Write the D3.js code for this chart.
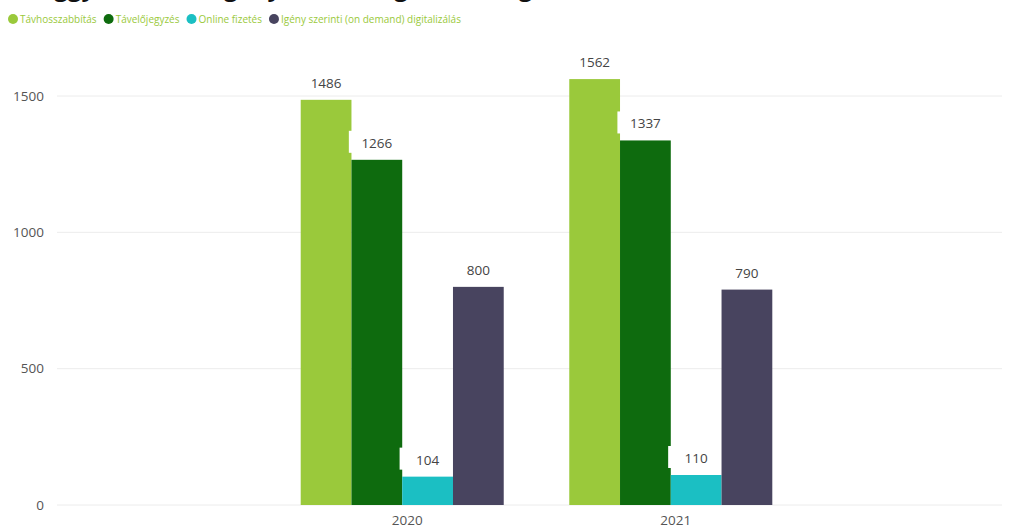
<!DOCTYPE html>
<html>
<head>
<meta charset="utf-8">
<script src="https://cdn.jsdelivr.net/npm/d3@7"></script>
<style>
  body { margin: 0; background: #fff; }
  text { font-family: "Open Sans", "Noto Sans", sans-serif; }
</style>
</head>
<body>
<div id="chart"></div>
<script>
var width = 1012,
  height = 525;

// data
var years = ["2020", "2021"];
var series = ["Távhosszabbítás", "Távelőjegyzés", "Online fizetés", "Igény szerinti (on demand) digitalizálás"];
var colors = ["#9ac93b", "#0e6b0e", "#1bbfc3", "#48445f"];
var values2020 = [1486, 1266, 104, 800];
var values2021 = [1562, 1337, 110, 790];
var yTicks = [0, 500, 1000, 1500];

var valuesByYear = [values2020, values2021];

var margin = {top: 96, right: 0, bottom: 20, left: 59};

var svg = d3.select("#chart").append("svg")
  .attr("width", width)
  .attr("height", height);

// title, mostly cut off at the top of the picture
svg.append("text")
  .attr("x", 10)
  .attr("y", -4)
  .attr("font-size", 24)
  .attr("font-weight", "bold")
  .attr("fill", "#111")
  .text("A leggyakrabban igénybe vett digitális szolgáltatások száma évente, db szerint, 2020–2021 ügyek típusa");

var y = d3.scaleLinear()
  .domain([0, 1500])
  .range([505, 96]);

var x0 = d3.scaleBand()
  .domain(years)
  .range([margin.left, width + 2])
  .paddingInner(0.244)
  .paddingOuter(0.9);

var x1 = d3.scaleBand()
  .domain(d3.range(series.length))
  .range([0, x0.bandwidth()]);

// gridlines + y labels
var grid = svg.append("g");
grid.selectAll("line")
  .data(yTicks)
  .enter().append("line")
    .attr("x1", 57)
    .attr("x2", width - 10)
    .attr("y1", function(d) { return y(d); })
    .attr("y2", function(d) { return y(d); })
    .attr("stroke", "#ececec")
    .attr("stroke-width", 1);

grid.selectAll("text")
  .data(yTicks)
  .enter().append("text")
    .attr("x", 44)
    .attr("y", function(d) { return y(d); })
    .attr("dy", "0.35em")
    .attr("text-anchor", "end")
    .attr("font-size", 13.5)
    .attr("fill", "#555")
    .text(function(d) { return d; });

// x labels
svg.selectAll(".xlabel")
  .data(years)
  .enter().append("text")
    .attr("class", "xlabel")
    .attr("x", function(d) { return x0(d) + x0.bandwidth() / 2 + 5; })
    .attr("y", 525)
    .attr("text-anchor", "middle")
    .attr("font-size", 13.5)
    .attr("fill", "#555")
    .text(function(d) { return d; });

// bars and labels, series by series so later bars sit over earlier label boxes
var cells = function(j) {
  return years.map(function(yr, i) { return {yr: yr, v: valuesByYear[i][j], j: j}; });
};
var cx = function(d) { return x0(d.yr) + x1(d.j) + x1.bandwidth() / 2; };

series.forEach(function(s, j) {
  var g = svg.append("g").attr("class", "series");

  g.selectAll("rect.bar")
    .data(cells(j))
    .enter().append("rect")
      .attr("class", "bar")
      .attr("x", function(d) { return x0(d.yr) + x1(d.j); })
      .attr("width", x1.bandwidth())
      .attr("y", function(d) { return y(d.v); })
      .attr("height", function(d) { return y(0) - y(d.v); })
      .attr("fill", colors[j]);

  g.selectAll("rect.bg")
    .data(cells(j))
    .enter().append("rect")
      .attr("class", "bg")
      .attr("x", function(d) { return cx(d) - 28; })
      .attr("y", function(d) { return y(d.v) - 29; })
      .attr("width", 56)
      .attr("height", 22)
      .attr("fill", "#fff");

  g.selectAll("text")
    .data(cells(j))
    .enter().append("text")
      .attr("x", cx)
      .attr("y", function(d) { return y(d.v) - 12; })
      .attr("text-anchor", "middle")
      .attr("font-size", 13.5)
      .attr("fill", "#444")
      .text(function(d) { return d.v; });
});

// legend
var legend = svg.append("g").attr("transform", "translate(0,19)");
var lx = 8;
series.forEach(function(s, i) {
  legend.append("circle")
    .attr("cx", lx + 5)
    .attr("cy", 0)
    .attr("r", 5)
    .attr("fill", colors[i]);
  var t = legend.append("text")
    .attr("x", lx + 12)
    .attr("y", 0)
    .attr("dy", "0.35em")
    .attr("font-size", 10)
    .attr("fill", "#9ac93b")
    .text(s);
  lx += 12 + t.node().getComputedTextLength() + 7;
});
</script>
</body>
</html>
